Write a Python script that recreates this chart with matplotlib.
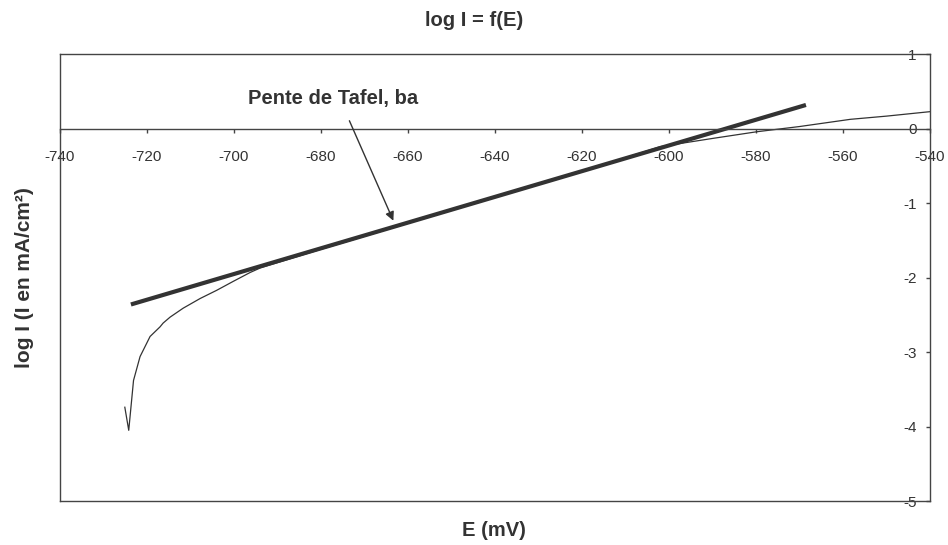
import numpy as np
import matplotlib
matplotlib.use("Agg")
import matplotlib.pyplot as plt

plt.rcParams['font.family'] = ['Liberation Sans', 'DejaVu Sans']

# courbe mesurée log I = f(E)
E_mesure = [-725.0, -724.1, -723.0, -721.5, -719.2, -716.9, -716.2, -714.6, -711.6,
            -707.7, -703.9, -700.1, -696.2, -693.9, -680, -660, -640, -620, -602,
            -590, -579.8, -570, -558.3, -550, -540]
logI_mesure = [-3.74, -4.05, -3.38, -3.06, -2.79, -2.66, -2.61, -2.53, -2.41,
               -2.28, -2.17, -2.05, -1.93, -1.87, -1.62, -1.27, -0.92, -0.575, -0.24,
               -0.13, -0.04, 0.03, 0.127, 0.17, 0.23]

# droite de Tafel
E_tafel = [-723.6, -568.5]
logI_tafel = [-2.36, 0.32]

x_ticks = np.arange(-740, -539, 20)
y_ticks = np.arange(-5, 2, 1)

gris = '#333333'
cadre = '#444444'

fig = plt.figure(figsize=(9.48, 5.45), dpi=100)
ax = fig.add_axes([0.0628, 0.0807, 0.9182, 0.8196])

ax.plot(E_mesure, logI_mesure, color=gris, lw=0.9)
ax.plot(E_tafel, logI_tafel, color=gris, lw=3.0, solid_capstyle='butt')

ax.set_xlim(-740, -540)
ax.set_ylim(-5, 1)

# axe des x qui passe par 0
ax.spines['bottom'].set_position(('data', 0))
for s in ax.spines.values():
    s.set_color(cadre)
    s.set_linewidth(1.0)
ax.axhline(-5, color=cadre, lw=1.0, clip_on=False)

ax.set_xticks(x_ticks)
ax.set_xticklabels([str(v) for v in x_ticks])
ax.tick_params(axis='x', direction='out', length=3, width=1, color=cadre,
               labelsize=11, labelcolor=gris, pad=12.5, top=False)

# axe des y à droite, étiquettes à l'intérieur
ax.yaxis.set_ticks_position('right')
ax.set_yticks(y_ticks)
ax.set_yticklabels([str(v) for v in y_ticks])
ax.tick_params(axis='y', direction='in', length=3, width=1, color=cadre,
               labelsize=11, labelcolor=gris, pad=-9.5, left=False)
for lbl in ax.get_yticklabels():
    lbl.set_horizontalalignment('right')

# annotation
ax.text(-677.2, 0.413, 'Pente de Tafel, ba', fontsize=14.5, fontweight='bold',
        color=gris, ha='center', va='center')
ax.annotate('', xy=(-663.3, -1.235), xytext=(-673.4, 0.108),
            arrowprops=dict(arrowstyle='-|>', color=gris, lw=1.0, mutation_scale=13,
                            shrinkA=0, shrinkB=0))

fig.text(0.5, 1 - 21 / 545, 'log I = f(E)', fontsize=14.5, fontweight='bold', color=gris,
         ha='center', va='center')
fig.text(494 / 948, 1 - 531 / 545, 'E (mV)', fontsize=14.5, fontweight='bold', color=gris,
         ha='center', va='center')
fig.text(25 / 948, 1 - 278 / 545, 'log I (I en mA/cm²)', fontsize=15, fontweight='bold',
         color=gris, ha='center', va='center', rotation=90)

plt.savefig('out.png', dpi=100)
